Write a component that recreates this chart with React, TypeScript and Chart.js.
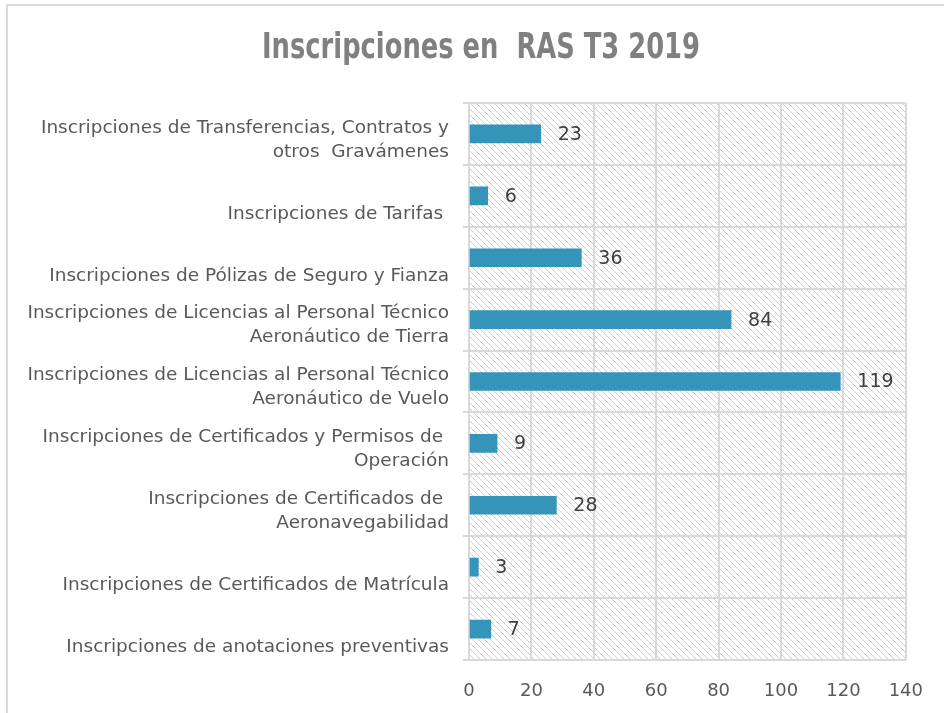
import React, { useEffect, useRef } from "react";
import { Chart, registerables } from "chart.js";

Chart.register(...registerables);

const TITLE = "Inscripciones en  RAS T3 2019";

const categories: string[][] = [
  ["Inscripciones de Transferencias, Contratos y", "otros  Gravámenes"],
  ["", "Inscripciones de Tarifas "],
  ["", "Inscripciones de Pólizas de Seguro y Fianza"],
  ["Inscripciones de Licencias al Personal Técnico", "Aeronáutico de Tierra"],
  ["Inscripciones de Licencias al Personal Técnico", "Aeronáutico de Vuelo"],
  ["Inscripciones de Certificados y Permisos de ", "Operación"],
  ["Inscripciones de Certificados de ", "Aeronavegabilidad"],
  ["", "Inscripciones de Certificados de Matrícula"],
  ["", "Inscripciones de anotaciones preventivas"],
];

const values: number[] = [23, 6, 36, 84, 119, 9, 28, 3, 7];

const xMin = 0;
const xMax = 140;
const xStep = 20;

const FONT = "'DejaVu Sans', sans-serif";
const TITLE_FONT = "bold 36px 'DejaVu Sans Condensed', 'DejaVu Sans', sans-serif";

const hatchPlugin = {
  id: "hatchBg",
  beforeDraw(chart: any) {
    const { ctx, chartArea, width, height } = chart;
    ctx.save();
    ctx.fillStyle = "#ffffff";
    ctx.fillRect(0, 0, width, height);
    // outer border
    ctx.strokeStyle = "#d9d9d9";
    ctx.lineWidth = 2;
    ctx.strokeRect(7, 5, 945, 720);
    const { left, top, right, bottom } = chartArea;
    ctx.beginPath();
    ctx.rect(left, top, right - left, bottom - top);
    ctx.clip();
    ctx.strokeStyle = "#cfcfcf";
    ctx.lineWidth = 1;
    const h = bottom - top;
    ctx.beginPath();
    for (let x = left - h; x < right + 6; x += 6) {
      ctx.moveTo(x, top);
      ctx.lineTo(x + h, bottom);
    }
    ctx.stroke();
    ctx.restore();
  },
};

const titlePlugin = {
  id: "condensedTitle",
  afterDraw(chart: any) {
    const { ctx } = chart;
    ctx.save();
    ctx.font = TITLE_FONT;
    ctx.fillStyle = "#808080";
    ctx.textAlign = "center";
    ctx.textBaseline = "middle";
    const w = ctx.measureText(TITLE).width;
    const sx = 438 / w;
    ctx.translate(481, 49);
    ctx.scale(sx, 1);
    ctx.fillText(TITLE, 0, 0);
    ctx.restore();
  },
};

const labelPlugin = {
  id: "valueLabels",
  afterDatasetsDraw(chart: any) {
    const { ctx } = chart;
    const meta = chart.getDatasetMeta(0);
    ctx.save();
    ctx.fillStyle = "#404040";
    ctx.font = `19px ${FONT}`;
    ctx.textAlign = "left";
    ctx.textBaseline = "middle";
    meta.data.forEach((bar: any, i: number) => {
      ctx.fillText(String(values[i]), bar.x + 17, bar.y + 1);
    });
    ctx.restore();
  },
};

export default function App() {
  const ref = useRef<HTMLCanvasElement | null>(null);
  useEffect(() => {
    document.body.style.margin = "0";
    const canvas = ref.current!;
    const chart = new Chart(canvas, {
      type: "bar",
      data: {
        labels: categories,
        datasets: [
          {
            data: values,
            backgroundColor: "#3494ba",
            barThickness: 18,
          },
        ],
      },
      options: {
        indexAxis: "y",
        animation: false,
        responsive: false,
        layout: { padding: { left: 0, right: 38, top: 103, bottom: 0 } },
        plugins: {
          legend: { display: false },
          tooltip: { enabled: false },
          title: { display: false },
        },
        scales: {
          x: {
            min: xMin,
            max: xMax,
            ticks: {
              stepSize: xStep,
              color: "#595959",
              font: { family: FONT, size: 18 },
              padding: 21,
            },
            grid: { color: "#d9d9d9", lineWidth: 2, drawTicks: false },
            border: { display: false },
            afterFit(scale: any) {
              scale.height = 53;
            },
          },
          y: {
            ticks: {
              color: "#595959",
              font: { family: FONT, size: 18.5, lineHeight: 1.3 },
              padding: 14,
              labelOffset: 6,
              autoSkip: false,
            },
            grid: { color: "#d9d9d9", lineWidth: 2, drawTicks: true, tickLength: 6 },
            border: { display: true, color: "#d9d9d9", width: 2 },
            afterFit(scale: any) {
              scale.width = 469;
            },
          },
        },
      },
      plugins: [hatchPlugin, labelPlugin, titlePlugin],
    });
    return () => chart.destroy();
  }, []);
  return (
    <div style={{ position: "absolute", left: 0, top: 0, width: 944, height: 713 }}>
      <canvas ref={ref} width={944} height={713} style={{ width: 944, height: 713 }} />
    </div>
  );
}
